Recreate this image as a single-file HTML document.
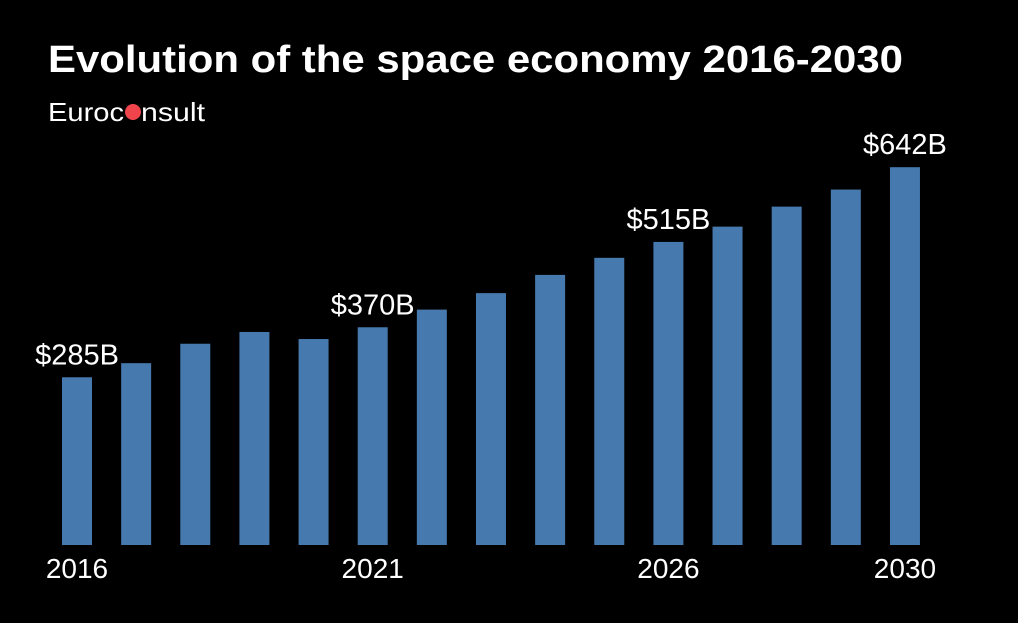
<!DOCTYPE html>
<html><head><meta charset="utf-8"><style>
body{margin:0;background:#000;width:1018px;height:618px;overflow:hidden;font-family:"Liberation Sans",sans-serif}
</style></head><body>
<svg width="1018" height="618">
<rect width="1018" height="618" fill="#000"/>
<text x="48" y="72" fill="#fff" font-size="38" font-weight="bold" textLength="855" lengthAdjust="spacingAndGlyphs">Evolution of the space economy 2016-2030</text>
<g>
<text x="48" y="121" fill="#fff" font-size="26" textLength="76" lengthAdjust="spacingAndGlyphs">Euroc</text>
<circle cx="133" cy="112" r="8" fill="#f0444c"/>
<text x="141" y="121" fill="#fff" font-size="26" textLength="64" lengthAdjust="spacingAndGlyphs">nsult</text>
</g>
<g id="bars"></g>
</svg>
<script>
const years=[2016,2017,2018,2019,2020,2021,2022,2023,2024,2025,2026,2027,2028,2029,2030];
const values=[285,309,342,362,350,370,400,428,459,488,515,541,575,604,642];
const labelledYears=[2016,2021,2026,2030];
const tickYears=[2016,2021,2026,2030];
const g=document.getElementById('bars');
const ns='http://www.w3.org/2000/svg';
const x=i=>62+i*59.14, bw=30, y=v=>545-v*0.5885;
years.forEach((yr,i)=>{
 const r=document.createElementNS(ns,'rect');
 r.setAttribute('x',x(i));r.setAttribute('y',y(values[i]));r.setAttribute('width',bw);r.setAttribute('height',545-y(values[i]));r.setAttribute('fill','#4679ad');
 
 
 g.appendChild(r);
 if(labelledYears.includes(yr)){
  const t=document.createElementNS(ns,'text');
  t.setAttribute('x',x(i)+bw/2);t.setAttribute('y',y(values[i])-13);t.setAttribute('text-anchor','middle');t.setAttribute('fill','#fff');t.setAttribute('font-size','29');
  t.textContent='$'+values[i]+'B';
  
  
  g.appendChild(t);
 }
 if(tickYears.includes(yr)){
  const t=document.createElementNS(ns,'text');
  t.setAttribute('x',x(i)+bw/2);t.setAttribute('y',578);t.setAttribute('text-anchor','middle');t.setAttribute('fill','#fff');t.setAttribute('font-size','28');
  t.textContent=yr;
  
  
  g.appendChild(t);
 }
});
</script>
</body></html>
